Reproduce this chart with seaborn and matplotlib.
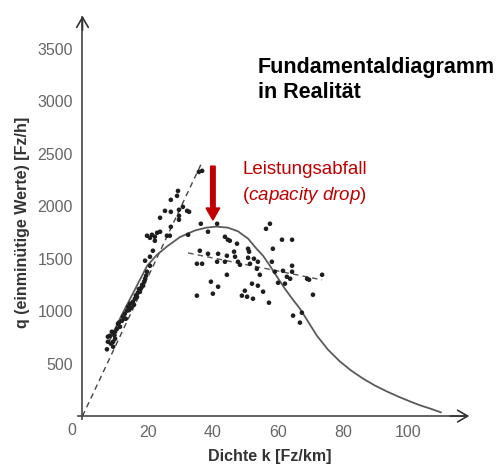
import matplotlib
matplotlib.use("Agg")
import numpy as np
import pandas as pd
import seaborn as sns
import matplotlib.pyplot as plt

# ---------------- data ----------------
free_k = [7.5, 7.8, 7.8, 8.4, 8.7, 9.4, 9.4, 10.0, 9.0, 10.0,
          10.6, 10.9, 11.5, 12.1, 12.4, 13.0, 13.3, 13.7, 14.0, 14.6,
          14.9, 15.5, 16.1, 16.7, 17.0, 17.6, 18.0, 18.6, 18.9, 19.2,
          19.8, 19.5, 20.7, 19.2, 20.7, 21.6, 22.2,
          9.8, 11.2, 12.8, 14.3, 15.8, 16.4, 17.3, 18.3,
          19.8, 20.7, 21.3, 22.2, 22.9, 23.8, 25.9, 26.8, 32.4, 27.1,
          23.8, 29.6, 29.6, 25.3, 27.1, 29.6, 30.8, 32.1, 32.7, 27.1,
          29.0, 29.3, 35.7, 36.7]
free_q = [636, 708, 756, 765, 690, 708, 661, 737, 803, 803,
          832, 880, 851, 908, 946, 975, 927, 1004, 1041, 1070,
          1032, 1089, 1118, 1137, 1175, 1184, 1222, 1242, 1280, 1308,
          1375, 1337, 1432, 1480, 1518, 1575, 1670,
          770, 890, 930, 1010, 1060, 1150, 1210, 1250,
          1718, 1698, 1727, 1708, 1746, 1756, 1718, 1718, 1727, 1803,
          1889, 1870, 1908, 1955, 1946, 1965, 1993, 1955, 1946, 2060,
          2098, 2145, 2326, 2336]

cong_k = [36.3, 41.3, 38.5, 43.7, 44.6, 45.2, 47.4, 50.8, 51.1,
          57.5, 56.3, 61.2, 64.3, 58.4, 36.0, 38.5, 41.6, 44.3, 46.5,
          46.8, 50.8, 52.6, 36.7, 35.1, 41.3, 43.7, 47.7, 48.3, 51.4,
          53.8, 53.5, 58.1, 64.3, 64.3, 61.5, 59.0, 44.3, 54.4, 62.7,
          63.7, 62.1, 60.0, 68.9, 69.5, 73.5, 39.4, 41.6, 52.0, 53.8,
          55.4, 49.8, 40.0, 35.1, 48.9, 50.5, 52.3, 57.2, 70.7, 64.6,
          67.3, 66.7]
cong_q = [1832, 1832, 1756, 1708, 1680, 1670, 1642, 1594, 1566,
          1832, 1784, 1680, 1680, 1594, 1575, 1546, 1546, 1527, 1566,
          1518, 1508, 1499, 1451, 1451, 1470, 1470, 1470, 1441, 1451,
          1470, 1403, 1470, 1432, 1375, 1384, 1375, 1346, 1346, 1327,
          1308, 1261, 1270, 1308, 1299, 1346, 1280, 1232, 1261, 1242,
          1185, 1194, 1166, 1147, 1147, 1137, 1118, 1080, 1156, 957,
          985, 890]

# fitted fundamental diagram (solid curve)
curve_k = [8, 12, 16, 19.8, 22.8, 25.9, 29.9, 34.5, 38, 41, 44.6, 47.7,
           50.8, 53.5, 55.4, 57.5, 59.6, 62.1, 64.4, 66.7, 69.3, 71.9, 75.3,
           79, 82.4, 86, 89.7, 93.4, 97, 100.5, 103.5, 106.6, 110]
curve_q = [700, 960, 1200, 1430, 1535, 1615, 1705, 1768, 1795, 1805, 1795, 1760,
           1690, 1590, 1527, 1432, 1330, 1213, 1115, 1023, 895, 766, 633,
           519, 434, 358, 291, 234, 184, 139, 103, 72, 35]

# dashed regression lines
free_line_k = [0, 36.7]
free_line_q = [0, 2421]
cong_line_k = [32.4, 73.5]
cong_line_q = [1554, 1297]

x_ticks = [20, 40, 60, 80, 100]
y_ticks = [500, 1000, 1500, 2000, 2500, 3000, 3500]

# capacity drop arrow (k, q_top -> q_tip)
drop_k = 40.0
drop_q_top = 2381
drop_q_tip = 1867

# ---------------- plotting ----------------
sns.set_theme(style="white")
plt.rcParams['font.family'] = ['Liberation Sans', 'DejaVu Sans']
plt.rcParams['mathtext.fontset'] = 'custom'
plt.rcParams['mathtext.rm'] = 'Liberation Sans'
plt.rcParams['mathtext.it'] = 'Liberation Sans:italic'

fig = plt.figure(figsize=(4.99, 4.66), dpi=100)
fig.patch.set_facecolor('white')
ax = fig.add_axes([0.1555, 0.1004, 0.7872, 0.8695])
ax.set_facecolor('white')

df = pd.DataFrame({
    'k': free_k + cong_k,
    'q': free_q + cong_q,
    'regime': ['frei'] * len(free_k) + ['gestaut'] * len(cong_k),
})

ax.plot(free_line_k, free_line_q, color='#444444', lw=1.0, linestyle=(0, (4, 3)), zorder=2)
ax.plot(cong_line_k, cong_line_q, color='#555555', lw=1.0, linestyle=(0, (4, 3)), zorder=2)

sns.lineplot(x=curve_k, y=curve_q, sort=False, estimator=None,
             color='#5a5a5a', lw=1.3, ax=ax, zorder=3)

sns.scatterplot(data=df, x='k', y='q', color='#1e1e1e', s=11,
                edgecolor='none', legend=False, ax=ax, zorder=4)

ax.set_xlim(-1.5, 119)
ax.set_ylim(-30, 3830)

for s in ['top', 'right']:
    ax.spines[s].set_visible(False)
ax.spines['left'].set_position(('data', 0))
ax.spines['bottom'].set_position(('data', 0))
for s in ['left', 'bottom']:
    ax.spines[s].set_color('#444444')
    ax.spines[s].set_linewidth(1.2)
ax.spines['bottom'].set_bounds(-1.5, 118)
ax.spines['left'].set_bounds(-30, 3800)

# axis arrowheads
ax.annotate('', xy=(119.5, 0), xytext=(112, 0),
            arrowprops=dict(arrowstyle='->,head_length=0.6,head_width=0.35',
                            lw=1.2, color='#333333'), annotation_clip=False)
ax.annotate('', xy=(0, 3840), xytext=(0, 3650),
            arrowprops=dict(arrowstyle='->,head_length=0.6,head_width=0.35',
                            lw=1.2, color='#333333'), annotation_clip=False)

ax.set_xticks(x_ticks)
ax.set_yticks(y_ticks)
ax.tick_params(axis='both', direction='out', length=3, width=1, color='#444444',
               labelsize=11.5, labelcolor='#666666')
ax.tick_params(axis='x', pad=3.5)
ax.tick_params(axis='y', pad=4)
ax.text(-3.2, -133, '0', ha='center', va='center', fontsize=11.5, color='#666666')

ax.set_xlabel('Dichte k [Fz/km]', fontsize=11.5, fontweight='bold', color='#333333')
ax.set_ylabel('q (einminütige Werte) [Fz/h]', fontsize=11.5, fontweight='bold', color='#333333')
ax.xaxis.set_label_coords(0.49, -0.073)
ax.yaxis.set_label_coords(-0.121, 0.487)

# capacity drop arrow
ax.arrow(drop_k, drop_q_top, 0, drop_q_tip - drop_q_top, width=1.4, head_width=4.2,
         head_length=115, length_includes_head=True, color='#c00000', zorder=5)

# texts
fig.text(258 / 499, 1 - 67 / 466, 'Fundamentaldiagramm', ha='left', va='center',
         fontsize=15.5, fontweight='bold', color='black')
fig.text(258 / 499, 1 - 93 / 466, 'in Realität', ha='left', va='center',
         fontsize=15.5, fontweight='bold', color='black')
fig.text(242 / 499, 1 - 170 / 466, 'Leistungsabfall', ha='left', va='center',
         fontsize=13.5, color='#c00000')
fig.text(242 / 499, 1 - 195 / 466, r'($\mathit{capacity\ drop}$)', ha='left', va='center',
         fontsize=13.5, color='#c00000')

fig.savefig('out.png', dpi=100, facecolor='white')
